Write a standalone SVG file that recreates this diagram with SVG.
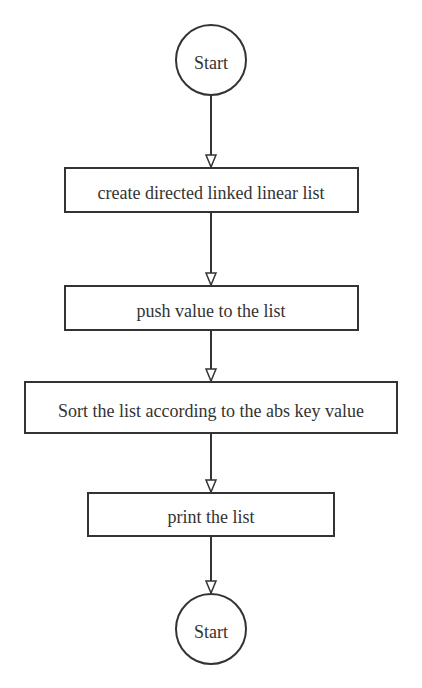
<svg xmlns="http://www.w3.org/2000/svg" width="422" height="688" viewBox="0 0 422 688">
<defs>
<style>
.n{fill:#fff;stroke:#333;stroke-width:2}
.t{font-family:"Liberation Serif",serif;font-size:18px;fill:#333;text-anchor:middle;dominant-baseline:central}
.c{stroke:#333;stroke-width:2;fill:none}
</style>
<marker id="ah" markerWidth="14" markerHeight="14" refX="13" refY="6" orient="auto" markerUnits="userSpaceOnUse" viewBox="0 0 14 12">
<path d="M1,1 L13,6 L1,11 Z" fill="#fff" stroke="#333" stroke-width="1.5"/>
</marker>
</defs>
<rect width="422" height="688" fill="#fff"/>
<g id="connectors">
<line class="c" x1="211" y1="95" x2="211" y2="167" marker-end="url(#ah)"/>
<line class="c" x1="211" y1="212" x2="211" y2="285" marker-end="url(#ah)"/>
<line class="c" x1="211" y1="330" x2="211" y2="381" marker-end="url(#ah)"/>
<line class="c" x1="211" y1="433" x2="211" y2="492" marker-end="url(#ah)"/>
<line class="c" x1="211" y1="536" x2="211" y2="593" marker-end="url(#ah)"/>
</g>
<g id="start1"><circle class="n" cx="211" cy="60" r="35"/><text class="t" x="211" y="63">Start</text></g>
<g id="create"><rect class="n" x="65" y="168" width="293" height="44"/><text class="t" x="211" y="193">create directed linked linear list</text></g>
<g id="push"><rect class="n" x="65" y="286" width="293" height="44"/><text class="t" x="211" y="311">push value to the list</text></g>
<g id="sort"><rect class="n" x="25" y="382" width="372" height="51"/><text class="t" x="211" y="411">Sort the list according to the abs key value</text></g>
<g id="print"><rect class="n" x="88" y="493" width="246" height="43"/><text class="t" x="211" y="517">print the list</text></g>
<g id="start2"><circle class="n" cx="211" cy="629" r="35"/><text class="t" x="211" y="632">Start</text></g>
</svg>
